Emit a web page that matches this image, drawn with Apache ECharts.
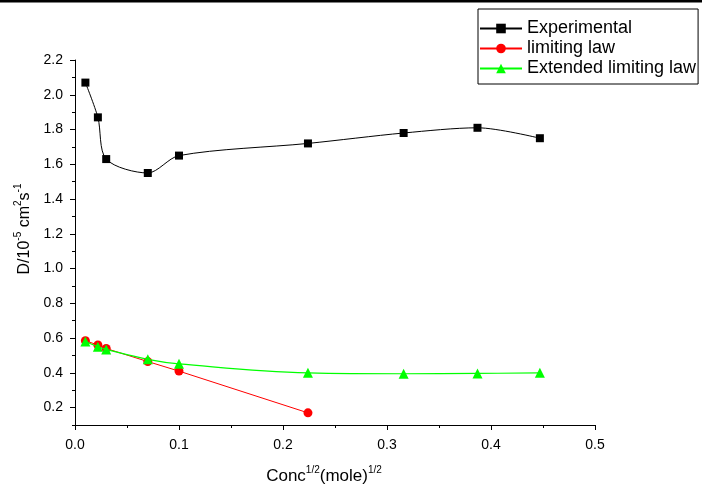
<!DOCTYPE html>
<html>
<head>
<meta charset="utf-8">
<script src="https://cdn.jsdelivr.net/npm/echarts@6/dist/echarts.min.js"></script>
<style>html,body{margin:0;padding:0;background:#fff}#c{width:702px;height:487px}</style>
</head>
<body>
<div id="c"></div>
<script>
var expX = [0.01, 0.022, 0.03, 0.07, 0.1, 0.224, 0.316, 0.387, 0.447];
var expY = [2.07, 1.87, 1.63, 1.55, 1.65, 1.72, 1.78, 1.81, 1.75];
var limX = [0.01, 0.022, 0.03, 0.07, 0.1, 0.224];
var limY = [0.585, 0.56, 0.54, 0.465, 0.41, 0.17];
var extX = [0.01, 0.022, 0.03, 0.07, 0.1, 0.224, 0.316, 0.387, 0.447];
var extY = [0.58, 0.55, 0.535, 0.478, 0.452, 0.40, 0.395, 0.397, 0.40];
var yLabelValues = [0.2, 0.4, 0.6, 0.8, 1.0, 1.2, 1.4, 1.6, 1.8, 2.0, 2.2];

function pairs(xs, ys) { return xs.map(function (x, i) { return [x, ys[i]]; }); }

var FONT = 'Liberation Sans, Arial, sans-serif';
var chart = echarts.init(document.getElementById('c'));
chart.setOption({
  animation: false,
  backgroundColor: '#fff',
  grid: { left: 75, right: 107, top: 60, bottom: 62, outerBoundsMode: 'none', containLabel: false },
  legend: {
    orient: 'vertical', left: 478, top: 9,
    padding: [10, 2, 6, 1],
    borderColor: '#000', borderWidth: 1,
    itemWidth: 42, itemHeight: 12, itemGap: 1,
    textStyle: { fontFamily: FONT, fontSize: 18, color: '#000', lineHeight: 19 },
    data: ['Experimental', 'limiting law', 'Extended limiting law']
  },
  xAxis: {
    type: 'value', min: 0, max: 0.5, interval: 0.1,
    axisLine: { lineStyle: { color: '#000', width: 1 } },
    axisTick: { show: true, length: 5, lineStyle: { color: '#000' } },
    minorTick: { show: true, splitNumber: 2, length: 3, lineStyle: { color: '#000' } },
    splitLine: { show: false },
    axisLabel: { color: '#000', fontFamily: FONT, fontSize: 14, margin: 13,
      formatter: function (v) { return v.toFixed(1); } }
  },
  yAxis: [{
    type: 'value', min: 0.1, max: 2.2, interval: 0.1,
    axisLine: { show: true, lineStyle: { color: '#000', width: 1 } },
    axisTick: { show: true, length: 5, customValues: yLabelValues, lineStyle: { color: '#000' } },
    splitLine: { show: false },
    axisLabel: { color: '#000', fontFamily: FONT, fontSize: 14, margin: 12, customValues: yLabelValues,
      formatter: function (v) { return v.toFixed(1); } }
  }, {
    type: 'value', min: 0.1, max: 2.2, interval: 0.1, position: 'left',
    axisLine: { show: false },
    axisTick: { show: true, length: 3, lineStyle: { color: '#000' } },
    splitLine: { show: false },
    axisLabel: { show: false }
  }],
  series: [{
    name: 'Experimental', type: 'line', data: pairs(expX, expY), smooth: 0.3,
    symbol: 'rect', symbolSize: 8,
    itemStyle: { color: '#000' },
    lineStyle: { color: '#000', width: 1 }, z: 3
  }, {
    name: 'limiting law', type: 'line', data: pairs(limX, limY),
    symbol: 'circle', symbolSize: 9,
    itemStyle: { color: '#ff0000' },
    lineStyle: { color: '#ff0000', width: 1 }, z: 2
  }, {
    name: 'Extended limiting law', type: 'line', data: pairs(extX, extY), smooth: 0.4,
    symbol: 'triangle', symbolSize: 10,
    itemStyle: { color: '#00ff00' },
    lineStyle: { color: '#00ff00', width: 1.2 }, z: 4
  }],
  graphic: [{
    type: 'rect', left: 0, top: 0, shape: { width: 702, height: 2.5 }, style: { fill: '#000' }
  }, {
    type: 'text', x: 324, y: 475,
    style: {
      text: '{a|Conc}{s|1/2}{a|(mole)}{s|1/2}',
      align: 'center', verticalAlign: 'middle',
      rich: {
        a: { fontFamily: FONT, fontSize: 17, fill: '#000', lineHeight: 20, verticalAlign: 'bottom' },
        s: { fontFamily: FONT, fontSize: 10, fill: '#000', lineHeight: 20, verticalAlign: 'top' }
      }
    }
  }, {
    type: 'text', x: 23, y: 229, rotation: Math.PI / 2,
    style: {
      text: '{a|D/10}{s|-5}{a| cm}{s|2}{a|s}{s|-1}',
      align: 'center', verticalAlign: 'middle',
      rich: {
        a: { fontFamily: FONT, fontSize: 16, fill: '#000', lineHeight: 20, verticalAlign: 'bottom' },
        s: { fontFamily: FONT, fontSize: 10, fill: '#000', lineHeight: 20, verticalAlign: 'top' }
      }
    }
  }]
});
</script>
</body>
</html>
